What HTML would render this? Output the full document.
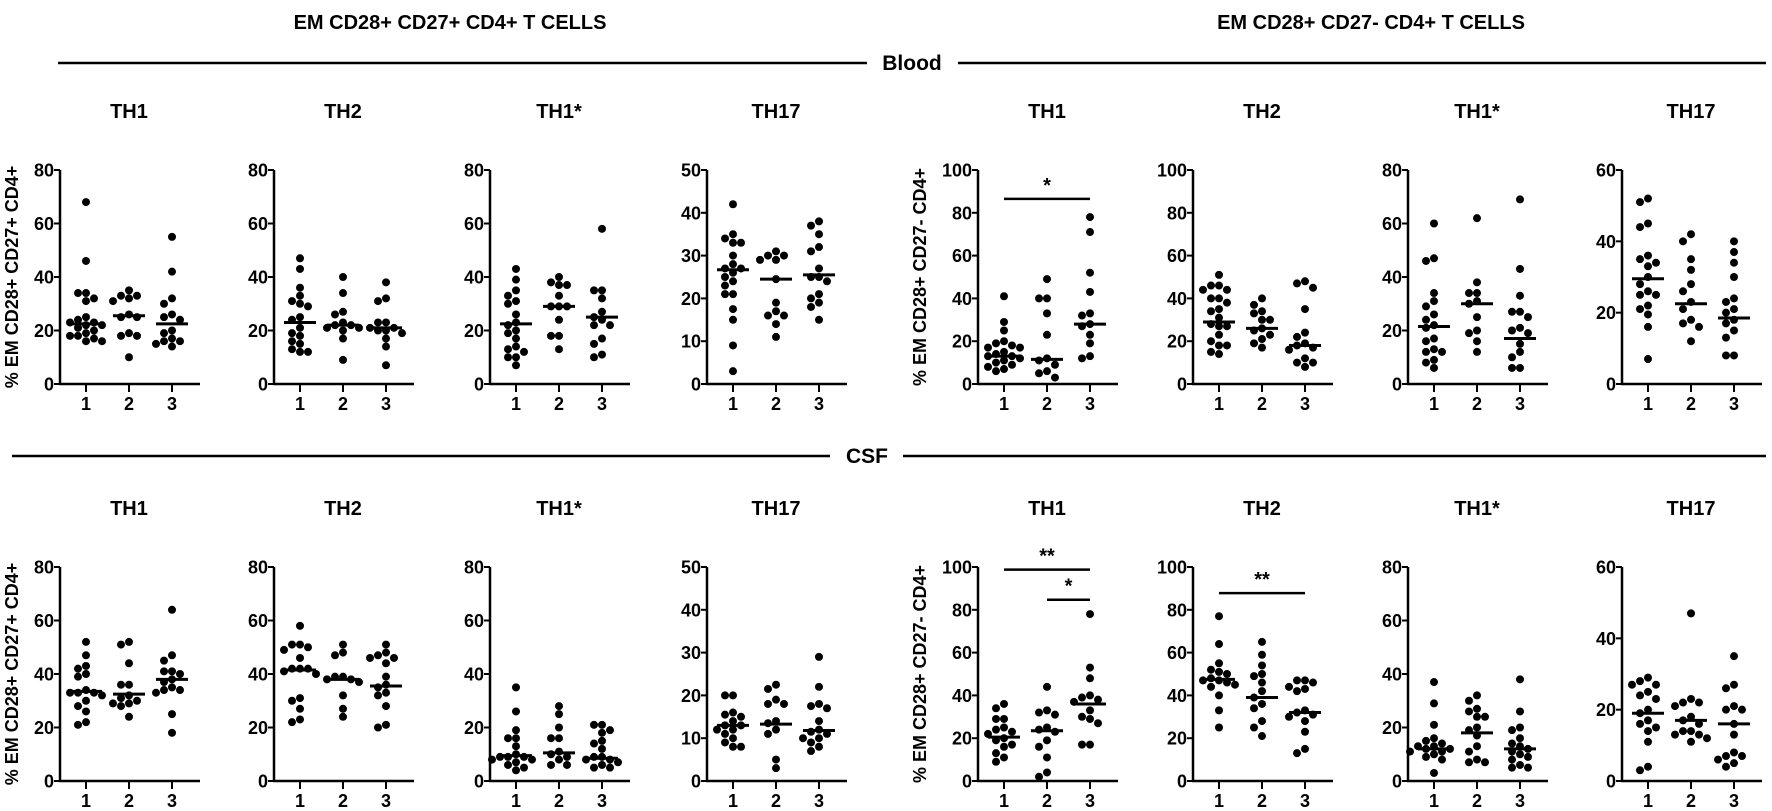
<!DOCTYPE html>
<html><head><meta charset="utf-8"><style>
body{margin:0;background:#fff}
svg{display:block;font-family:"Liberation Sans",Arial,sans-serif;font-weight:bold}
</style></head><body>
<svg id="chart" width="1772" height="811" viewBox="0 0 1772 811">
<text x="450" y="29" text-anchor="middle" font-size="20">EM CD28+ CD27+ CD4+ T CELLS</text>
<text x="1371" y="29" text-anchor="middle" font-size="20">EM CD28+ CD27- CD4+ T CELLS</text>
<line x1="58" y1="63" x2="867" y2="63" stroke="#000" stroke-width="2.5"/>
<line x1="958" y1="63" x2="1766" y2="63" stroke="#000" stroke-width="2.5"/>
<text x="912" y="70" text-anchor="middle" font-size="21">Blood</text>
<line x1="12" y1="456" x2="830" y2="456" stroke="#000" stroke-width="2.5"/>
<line x1="903" y1="456" x2="1766" y2="456" stroke="#000" stroke-width="2.5"/>
<text x="867" y="463" text-anchor="middle" font-size="21">CSF</text>
</svg>
<script>
const panelTitles = ["TH1","TH2","TH1*","TH17","TH1","TH2","TH1*","TH17"];
const blood_ymax = [80,80,80,50,100,100,80,60];
const blood_step = [20,20,20,10,20,20,20,20];
const csf_ymax = [80,80,80,50,100,100,80,60];
const csf_step = [20,20,20,10,20,20,20,20];
const blood_g1 = [
 [68,46,34,34,32,31,25,24,23,23,22,22,21,20,19,18,18,17,16,16],
 [47,43,36,33,31,30,29,25,24,21,19,18,16,15,13,12,12],
 [43,39,35,33,31,30,26,23,22,20,19,17,14,13,12,10,10,7],
 [42,35,34,33,33,30,28,27,27,26,25,24,23,21,21,17.5,15,9,3],
 [41,29,25,20,19,18,17,17,15,14,13,13,12,11,10,9,8,7,6],
 [51,46,46,44,44,40,40,38,35,34,31,28,27,27,23,20,18,18,15,14],
 [60,47,46,34,31,29,26,24,22,21,17,16,13,12,12,9,8,6],
 [52,51,45,44,36,35,34,33,30,28,26,25,25,22,21,19.5,16,7]];
const blood_g2 = [
 [35,33,33,32,31,26,25,25,19,18,18,10],
 [40,34,27,26,23,22,22,21,21,20,17,9],
 [40,38,37,37,33,29,29,29,24,18,18,13],
 [31,30,30,29,29,24.5,19,17,16,16,14,11],
 [49,40,40,33,23,12,11,9,6,5,3],
 [40,37,34,33,30,30,26,25,23,21,19,17],
 [62,38,34,34,31,30,25,20,19,16,12],
 [42,40,35,32,28,26,23,21,18,17,16,12]];
const blood_g3 = [
 [55,42,32,30,26,25,24,20,19,17,16,16,15,14],
 [38,32,31,23,23,21,21,20,20,19,17,14,7],
 [58,35,35,32,27,25,24,22,22,17,15,11,10],
 [38,37,35,32,31,27,25,25,24,21,20,19,18,15],
 [78,71,52,43,33,32,28,27,23,19,13,12],
 [48,47,45,35,24,22,19,18,17,16,12,10,10,8],
 [69,43,33,27,27,25,21,20,19,15,12,10,6,6],
 [40,37,34,30,24,23,21,20,18,17,15,13,8,8]];
const blood_medians = [[22.5,25.5,22.5],[23,22,21],[22.5,29,25],[26.7,24.5,25.5],[13,11.5,28],[29,26,18],[21.5,30,17],[29.5,22.5,18.5]];
const csf_g1 = [
 [52,47,43,42,40,39,34,33,33,33,32,30,28,26,22,21],
 [58,51,51,50,49,46,42,42,42,41,40,31,30,27,23,22],
 [35,26,19,16,16,13,10,9,9,9,8,8,7,6,5,4],
 [20,20,16,15.5,15,14,13,13,12,12,11,10,9,8,8],
 [36,34,29,29,25,24,23,22,20,19,17,16,13,11,9],
 [77,64,55,52,51,50,48,47,47,46,45,44,40,33,25],
 [37,29,21,16,15,14,13,13,12,12,11,11,10,9,8,3],
 [29,28,27,27,25,24,23,20,19,17,16,15,14,11,4,3]];
const csf_g2 = [
 [52,51,44,36,36,32,31,30,29,29,28,24],
 [51,48,47,39,39,38,38,37,32,27,24],
 [28,25,20,16,16,11,10,9,8,6,6],
 [22.5,21.5,19,18,18,14,13.5,12,11,5,3],
 [44,33,32,31,25,24,23,19,16,11,4,2],
 [65,59,54,50,49,46,42,39,36,34,28,25,21],
 [32,30,27,26,24,24,20,19,17,13,11,8,7,7],
 [47,23,22,22,21,18,17,16,14,14,13,13,12,11]];
const csf_g3 = [
 [64,47,45,41,41,40,38,37,35,34,34,33,25,18],
 [51,48,47,46,46,44,39,36,35,33,32,28,21,20],
 [21,21,19,18,15,14,12,9,9,8,8,7,6,5,5],
 [29,22,18,17.5,17,14,12,11.5,11,10,10,9,8,7],
 [78,53,48,40,39,38,37,33,30,29,27,17,17],
 [47,47,46,44,43,42,33,32,31,30,28,23,15,13],
 [38,26,20,19,16,14,13,12,11,10,9,8,6,5,5],
 [35,27,26,21,20,20,16,13,8,7,7,6,5,4]];
const csf_medians = [[33.5,32.5,38],[41.5,38,35.5],[9.5,10.5,8.5],[13,13.3,11.8],[20.5,23.5,36],[47.5,39,32],[12,18,12],[19,17,16]];
// significance: [panelIndex, fromGroup, toGroup, yValue, label]
const blood_sig = [[4,1,3,86.5,"*"]];
const csf_sig = [[4,1,3,98.8,"**"],[4,2,3,84.7,"*"],[5,1,3,87.8,"**"]];
const groupLabels = ["1","2","3"];

const svg = document.getElementById('chart');
const NS = 'http://www.w3.org/2000/svg';
const axisX = [60,274,490,707,978,1193,1408,1622];
function mk(tag, attrs, parent){const e=document.createElementNS(NS,tag);for(const k in attrs)e.setAttribute(k,attrs[k]);(parent||svg).appendChild(e);return e;}

function drawRow(rowName, y0, yTop, titleY, ymaxs, steps, g1, g2, g3, meds, sigs, yLabels){
  for(let p=0;p<8;p++){
    const ax = axisX[p];
    const g = mk('g',{});
    
    
    const ymax = ymaxs[p];
    const yS = v => y0 - (v/ymax)*(y0-yTop);
    const xS = i => ax + 26 + i*43;
    const t = mk('text',{x:xS(1),y:titleY,'text-anchor':'middle','font-size':20},g);
    t.textContent = panelTitles[p];
    
    
    const ya = mk('line',{x1:ax,y1:yTop,x2:ax,y2:y0+1,stroke:'#000','stroke-width':2.5},g);
    
    
    const xa = mk('line',{x1:ax-1,y1:y0,x2:ax+140,y2:y0,stroke:'#000','stroke-width':2.5},g);
    
    
    for(let v=0; v<=ymax; v+=steps[p]){
      mk('line',{x1:ax-6,y1:yS(v),x2:ax,y2:yS(v),stroke:'#000','stroke-width':2},g);
      const tl = mk('text',{x:ax-6,y:yS(v)+6.5,'text-anchor':'end','font-size':18},g);
      tl.textContent = v;
      
      
    }
    for(let i=0;i<3;i++){
      mk('line',{x1:xS(i),y1:y0,x2:xS(i),y2:y0+8,stroke:'#000','stroke-width':2},g);
      const xl = mk('text',{x:xS(i),y:y0+26,'text-anchor':'middle','font-size':18},g);
      xl.textContent = groupLabels[i];
      
      
    }
    const groups=[g1[p],g2[p],g3[p]];
    groups.forEach((vals,i)=>{
      const placed=[];
      vals.slice().sort((a,b)=>b-a).forEach(v=>{
        const py=yS(v); let px=xS(i);
        const cands=[0,-8,8,-16,16,-24,24];
        for(const c of cands){const cx=xS(i)+c; if(placed.every(q=>Math.hypot(q[0]-cx,q[1]-py)>=8)){px=cx;break;}}
        placed.push([px,py]);
        const d = mk('circle',{cx:px,cy:py,r:4,fill:'#000'},g);
        
        
      });
      const m = mk('line',{x1:xS(i)-16,y1:yS(meds[p][i]),x2:xS(i)+16,y2:yS(meds[p][i]),stroke:'#000','stroke-width':3},g);
      
      
    });
    sigs.filter(s=>s[0]===p).forEach(s=>{
      const sy=yS(s[3]);
      const l = mk('line',{x1:xS(s[1]-1),y1:sy,x2:xS(s[2]-1),y2:sy,stroke:'#000','stroke-width':2.5},g);
      
      
      const st = mk('text',{x:(xS(s[1]-1)+xS(s[2]-1))/2,y:sy-7,'text-anchor':'middle','font-size':20},g);
      st.textContent = s[4];
      
      
    });
    if(p===0||p===4){
      const cy=(y0+yTop)/2, lx = p===0?18:ax-52;
      const yl = mk('text',{x:lx,y:cy,'text-anchor':'middle','font-size':18,transform:'rotate(-90 '+lx+' '+cy+')'},g);
      yl.textContent = yLabels[p===0?0:1];
      
      
    }
  }
}
drawRow('blood',384,170,118,blood_ymax,blood_step,blood_g1,blood_g2,blood_g3,blood_medians,blood_sig,["% EM CD28+ CD27+ CD4+","% EM CD28+ CD27- CD4+"]);
drawRow('csf',781,567,515,csf_ymax,csf_step,csf_g1,csf_g2,csf_g3,csf_medians,csf_sig,["% EM CD28+ CD27+ CD4+","% EM CD28+ CD27- CD4+"]);
</script>
</body></html>
